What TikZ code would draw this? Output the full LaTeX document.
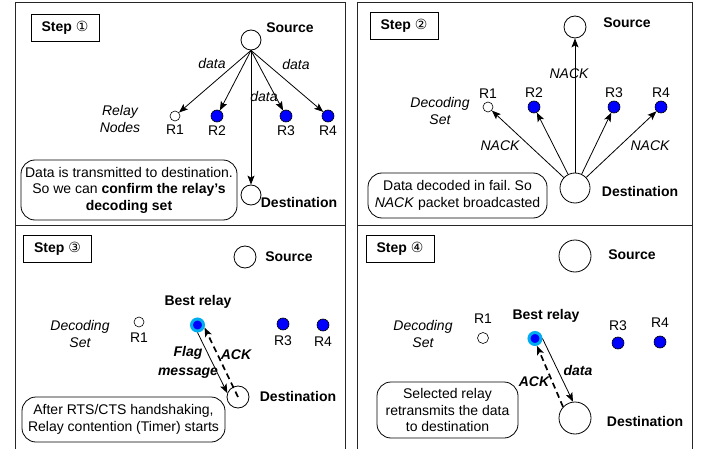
\documentclass[tikz,border=0pt]{standalone}
\usepackage{fontspec}
\setmainfont{Liberation Sans}
\newfontfamily\circfont{DejaVu Sans}
\usepackage{tikz}
\usetikzlibrary{positioning, arrows.meta}
\frenchspacing

\newcommand{\stepno}[1]{\textbf{Step} {\circfont #1}}

\begin{document}
\begin{tikzpicture}[
        x=1pt, y=-1pt,
        txt/.style={inner sep=0pt, font=\fontsize{14}{16.5}\selectfont},
        boldtxt/.style={inner sep=0pt, font=\fontsize{14}{16.5}\selectfont\bfseries},
        itxt/.style={inner sep=0pt, align=center, font=\fontsize{14}{17}\selectfont\itshape},
        bitxt/.style={inner sep=0pt, align=center, font=\fontsize{14}{19}\selectfont\bfseries\itshape},
        panel/.style={line width=0.9pt, black!85},
        stepbox/.style={draw, line width=0.8pt, minimum width=68pt, minimum height=27pt, inner sep=0pt, font=\fontsize{14}{16.5}\selectfont},
        term/.style={circle, draw, line width=0.8pt, inner sep=0pt},
        relay/.style={circle, draw, fill=blue, line width=0.6pt, minimum size=12pt, inner sep=0pt},
        idle/.style={circle, draw, fill=white, line width=0.6pt, minimum size=10pt, inner sep=0pt},
        best/.style={circle, draw=cyan, fill=blue, line width=3pt, minimum size=12pt, inner sep=0pt},
        note/.style={draw, rounded corners=14pt, line width=0.8pt, align=center, inner sep=0pt, font=\fontsize{14}{16.5}\selectfont},
        arr/.style={-{Stealth[length=9pt, width=7pt, inset=2pt]}, line width=0.8pt},
        dasharr/.style={-{Stealth[length=9pt, width=7pt, inset=2pt]}, line width=1.7pt, dash pattern=on 6pt off 4pt}
      ]
      \useasboundingbox (0,0) rectangle (709,449);
      \draw[panel] (15,449) -- (15,2) -- (345,2) -- (345,449);
      \draw[panel] (357,449) -- (357,2) -- (692,2) -- (692,449);
      \draw[panel] (15,225) -- (345,225);
      \draw[panel] (357,225) -- (692,225);

      \node[stepbox] (step1) at (65,27.5) {\stepno{①}};
      \node[term, minimum size=20pt] (src1) at (251,40) {};
      \node[boldtxt] (srclbl1) at (290,28) {Source};
      \node[idle] (r11) at (175,116) {};
      \node[relay] (r12) at (217,116) {};
      \node[relay] (r13) at (286,116) {};
      \node[relay] (r14) at (328,116) {};
      \node[txt] (l11) [below=3pt of r11] {R1};
      \node[txt] (l12) [below=3pt of r12] {R2};
      \node[txt] (l13) [below=3pt of r13] {R3};
      \node[txt] (l14) [below=3pt of r14] {R4};
      \node[itxt] (set1) at (120,119.5) {Relay\\Nodes};
      \node[term, minimum size=20pt] (dst1) at (251,195) {};
      \node[boldtxt] (dstlbl1) at (299,202) {Destination};
      \node[itxt] (d11) at (212,64) {data};
      \node[itxt] (d12) at (296,65) {data};
      \node[itxt] (d13) at (264,97) {data};
      \node[note, minimum width=216pt, minimum height=60pt] (note1) at (129,190)
        {Data is transmitted to destination.\\So we can \textbf{confirm the relay’s}\\\textbf{decoding set}};
      \draw[arr] (src1.south) -- (r11);
      \draw[arr] (src1.south) -- (r12);
      \draw[arr] (src1.south) -- (r13);
      \draw[arr] (src1.south) -- (r14);
      \draw[arr] (src1) -- (dst1);

      \node[stepbox] (step2) at (404,25.5) {\stepno{②}};
      \node[term, minimum size=22pt] (src2) at (575,27) {};
      \node[boldtxt] (srclbl2) at (627,23) {Source};
      \node[term, minimum size=30pt] (dst2) at (575,188) {};
      \node[boldtxt] (dstlbl2) at (640,191) {Destination};
      \node[idle] (r21) at (488,107) {};
      \node[relay] (r22) at (534,107) {};
      \node[relay] (r23) at (614,107) {};
      \node[relay] (r24) at (661,107) {};
      \node[txt] (l21) [above=3pt of r21] {R1};
      \node[txt] (l22) [above=3pt of r22] {R2};
      \node[txt] (l23) [above=3pt of r23] {R3};
      \node[txt] (l24) [above=3pt of r24] {R4};
      \node[itxt] (set2) at (440,111) {Decoding\\Set};
      \node[itxt] (n21) at (569,74) {NACK};
      \node[itxt] (n22) at (500,146) {NACK};
      \node[itxt] (n23) at (650,146) {NACK};
      \node[note, minimum width=179pt, minimum height=45pt] (note2) at (457.5,195.5)
        {Data decoded in fail. So\\\textit{NACK} packet broadcasted};
      \draw[arr] (dst2) -- (src2);
      \draw[arr] (dst2) -- (r21);
      \draw[arr] (dst2) -- (r22);
      \draw[arr] (dst2) -- (r23);
      \draw[arr] (dst2) -- (r24);

      \node[stepbox] (step3) at (57.5,248.5) {\stepno{③}};
      \node[term, minimum size=22pt] (src3) at (245,257) {};
      \node[boldtxt] (srclbl3) at (289,257) {Source};
      \node[term, minimum size=22pt] (dst3) at (238,397) {};
      \node[boldtxt] (dstlbl3) at (298,396) {Destination};
      \node[idle] (r31) at (139,322) {};
      \node[best] (best3) at (197.5,325) {};
      \node[relay] (r33) at (283,324) {};
      \node[relay] (r34) at (323,325) {};
      \node[boldtxt] (bestlbl3) at (198,302) {Best relay};
      \node[txt] (l31) [below=5pt of r31] {R1};
      \node[txt] (l33) [below=5pt of r33] {R3};
      \node[txt] (l34) [below=5pt of r34] {R4};
      \node[itxt] (set3) at (80,334) {Decoding\\Set};
      \node[bitxt] (flag3) at (188,362) {Flag\\message};
      \node[bitxt] (ack3) at (236,355) {ACK};
      \node[note, minimum width=203pt, minimum height=45pt] (note3) at (123.5,419.5)
        {After RTS/CTS handshaking,\\Relay contention (Timer) starts};
      \draw[arr] (best3.south) -- (dst3.160);
      \draw[dasharr] (dst3.center) -- (best3.-20);

      \node[stepbox] (step4) at (400,248.5) {\stepno{④}};
      \node[term, minimum size=32pt] (src4) at (575,256) {};
      \node[boldtxt] (srclbl4) at (632,255) {Source};
      \node[term, minimum size=32pt] (dst4) at (575,418) {};
      \node[boldtxt] (dstlbl4) at (645,421) {Destination};
      \node[idle, minimum size=11pt] (r41) at (483,338) {};
      \node[best] (best4) at (535,338.5) {};
      \node[relay] (r43) at (618,343) {};
      \node[relay] (r44) at (660,342) {};
      \node[boldtxt] (bestlbl4) at (546,316) {Best relay};
      \node[txt] (l41) [above=9pt of r41] {R1};
      \node[txt] (l43) [above=6pt of r43] {R3};
      \node[txt] (l44) [above=8pt of r44] {R4};
      \node[itxt] (set4) at (423,334) {Decoding\\Set};
      \node[bitxt] (d41) at (578,370) {data};
      \node[bitxt] (ack4) at (534,382) {ACK};
      \node[note, minimum width=141pt, minimum height=56pt] (note4) at (447.5,410)
        {Selected relay\\retransmits the data\\to destination};
      \draw[arr] (best4.east) -- (dst4.97);
      \draw[dasharr] (dst4.137) -- (best4.-75);
    \end{tikzpicture}
\end{document}
